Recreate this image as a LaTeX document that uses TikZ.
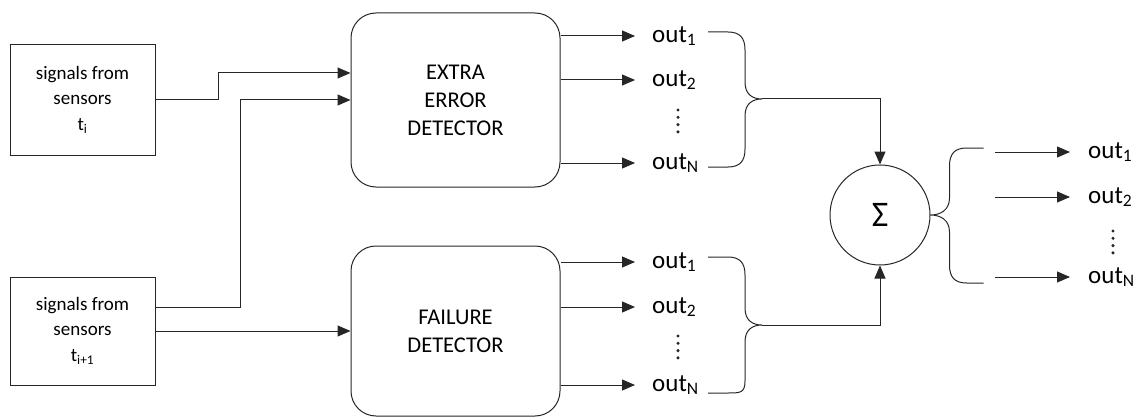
\documentclass[tikz,border=0pt]{standalone}
\usepackage{fontspec}
\setmainfont{Carlito}
\usetikzlibrary{arrows.meta}
\begin{document}
\begin{tikzpicture}[x=1pt,y=-1pt,
  ln/.style={line width=1pt,draw=black!85},
  arr/.style={ln,-{Triangle[length=13pt,width=11pt]}},
  srcbox/.style={ln,rectangle,minimum width=145pt,inner sep=0pt,align=center,
     font=\fontsize{19}{25.5}\selectfont},
  detbox/.style={ln,rectangle,rounded corners=25pt,minimum width=209pt,inner sep=0pt,align=center,
     font=\fontsize{22.5}{28}\selectfont},
  outlbl/.style={anchor=west,inner sep=0pt,font=\fontsize{25}{28}\selectfont},
  vdot/.style={fill=black!85,draw=none}
]
\useasboundingbox (0,0) rectangle (1140,417);

% source boxes
\node[srcbox,minimum height=110pt] (s1) at (82.5,100) {signals from\\sensors\\t\textsubscript{i}};
\node[srcbox,minimum height=108pt] (s2) at (82.5,331) {signals from\\sensors\\t\textsubscript{i+1}};

% detectors
\node[detbox,minimum height=174pt] (e) at (455.5,100) {EXTRA\\ERROR\\DETECTOR};
\node[detbox,minimum height=170pt] (f) at (455.5,331) {FAILURE\\DETECTOR};

% sum
\node[ln,circle,minimum size=100pt,inner sep=0pt,font=\fontsize{36}{40}\selectfont] (sum) at (880,215) {Σ};

% input connectors
\draw[arr] (s1.east) -- ++(63,0) |- ([yshift=27pt]e.west);
\draw[arr] ([yshift=24pt]s2.east) -- ++(85,0) |- (e.west);
\draw[arr] (s2.east) -- (f.west);

% top outputs
\node[outlbl] (a1) at (652,36) {out\textsubscript{1}};
\node[outlbl] (a2) at (652,80) {out\textsubscript{2}};
\node[outlbl] (aN) at (652,163) {out\textsubscript{N}};
\foreach \yy in {110,117.3,124.6,131.9} \fill[vdot] (678,\yy) circle (1.7pt);
\draw[arr] ([yshift=64pt]e.east) -- ([xshift=-17pt]a1.west);
\draw[arr] ([yshift=20pt]e.east) -- ([xshift=-17pt]a2.west);
\draw[arr] ([yshift=-63pt]e.east) -- ([xshift=-17pt]aN.west);

% bottom outputs
\node[outlbl] (b1) at (652,262) {out\textsubscript{1}};
\node[outlbl] (b2) at (652,307) {out\textsubscript{2}};
\node[outlbl] (bN) at (652,385) {out\textsubscript{N}};
\foreach \yy in {336,343.3,350.6,357.9} \fill[vdot] (678,\yy) circle (1.7pt);
\draw[arr] ([yshift=69pt]f.east) -- ([xshift=-17pt]b1.west);
\draw[arr] ([yshift=24pt]f.east) -- ([xshift=-17pt]b2.west);
\draw[arr] ([yshift=-54pt]f.east) -- ([xshift=-17pt]bN.west);

% braces
\coordinate (ta) at (762,99);
\coordinate (tb) at (762,325);
\begin{scope}[shift={(ta)}]
\draw[ln] (-54,-67) -- (-34,-67) .. controls (-22,-67) and (-17,-61) .. (-17,-49) -- (-17,-17)
  .. controls (-17,-5) and (-10,0) .. (0,0) .. controls (-10,0) and (-17,5) .. (-17,17)
  -- (-17,50) .. controls (-17,62) and (-22,68) .. (-34,68) -- (-54,68);
\end{scope}
\begin{scope}[shift={(tb)}]
\draw[ln] (-54,-68) -- (-34,-68) .. controls (-22,-68) and (-17,-62) .. (-17,-50) -- (-17,-17)
  .. controls (-17,-5) and (-10,0) .. (0,0) .. controls (-10,0) and (-17,5) .. (-17,17)
  -- (-17,56) .. controls (-17,68) and (-22,68) .. (-34,68) -- (-54,68);
\end{scope}
\draw[arr] (ta) -| (sum.north);
\draw[arr] (tb) -| (sum.south);

\begin{scope}[shift={(sum.east)},xscale=-1]
\draw[ln] (-53,-67) -- (-36,-67) .. controls (-24,-67) and (-19,-61) .. (-19,-49) -- (-19,-17)
  .. controls (-19,-5) and (-10,0) .. (0,0) .. controls (-10,0) and (-19,5) .. (-19,17)
  -- (-19,50) .. controls (-19,62) and (-24,68) .. (-36,68) -- (-53,68);
\end{scope}

% right outputs
\node[outlbl] (c1) at (1088,152) {out\textsubscript{1}};
\node[outlbl] (c2) at (1088,197) {out\textsubscript{2}};
\node[outlbl] (cN) at (1088,277) {out\textsubscript{N}};
\foreach \yy in {231,238.3,245.6,252.9} \fill[vdot] (1113,\yy) circle (1.7pt);
\draw[arr] ([xshift=-93pt]c1.west) -- ([xshift=-18pt]c1.west);
\draw[arr] ([xshift=-93pt]c2.west) -- ([xshift=-18pt]c2.west);
\draw[arr] ([xshift=-93pt]cN.west) -- ([xshift=-18pt]cN.west);
\end{tikzpicture}
\end{document}
